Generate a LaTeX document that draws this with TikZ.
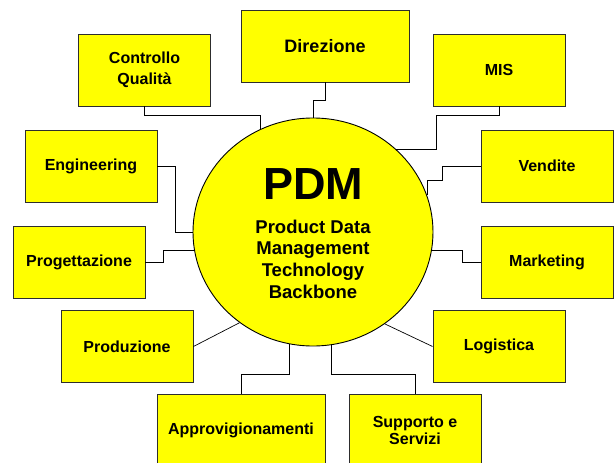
\documentclass[tikz,border=0pt]{standalone}
\usepackage{fontspec}
\setmainfont{Liberation Sans}
\usetikzlibrary{shapes.geometric}
\definecolor{pdmyellow}{RGB}{255,255,0}
\definecolor{boxline}{RGB}{45,45,45}

\begin{document}
\begin{tikzpicture}[x=1pt,y=-1pt,
  box/.style={draw=boxline, line width=0.9pt, fill=pdmyellow, minimum width=132pt, minimum height=72pt, inner sep=0pt, align=center, font=\fontsize{16}{19}\selectfont\bfseries},
  link/.style={draw=black, line width=0.7pt}]
\useasboundingbox (0,0) rectangle (614,463);
\node[ellipse, draw=black, line width=0.9pt, fill=pdmyellow, minimum width=240pt, minimum height=228pt, inner sep=0pt] (pdm) at (313,232) {};
\node[font=\fontsize{45}{50}\selectfont\bfseries, inner sep=0pt] (pdmtitle) at (313,184.5) {PDM};
\node[align=center, font=\fontsize{18.5}{21.7}\selectfont\bfseries, inner sep=0pt] (pdmtext) at (313,259) {Product Data\\Management\\Technology\\Backbone};

\node[box] (cq) at (144.5,70) {Controllo\\[2pt]Qualit\`a};
\node[box, minimum width=168pt, font=\fontsize{18}{21}\selectfont\bfseries] (dir) at (325,46) {Direzione};
\node[box] (mis) at (499,70) {MIS};
\node[box] (ven) at (547,166) {Vendite};
\node[box] (eng) at (91,166) {Engineering};
\node[box] (prog) at (79,262.5) {Progettazione};
\node[box] (mkt) at (547,262) {Marketing};
\node[box] (prod) at (127,346.5) {Produzione};
\node[box] (log) at (499,346.5) {Logistica};
\node[box, minimum width=168pt] (app) at (241,430) {Approvigionamenti};
\node[box] (sup) at (415,430) {Supporto e\\[-2pt]Servizi};

\draw[link] (cq.south) -- ++(0,9) -| (pdm.117);
\draw[link] (dir.south) -- ++(0,18) -| (pdm.north);
\draw[link] (mis.south) -- ++(0,9) -| ([xshift=40pt]pdm.45) -- (pdm.45);
\draw[link] (ven.west) -| ++(-38,14) -| (pdm.18);
\draw[link] (eng.east) -- ++(18,0) |- (pdm.west);
\draw[link] (prog.east) -- ++(18,0) |- (pdm.189);
\draw[link] (mkt.west) -- ++(-18,0) |- (pdm.-9);
\draw[link] (prod.east) -- (pdm.231);
\draw[link] (log.west) -- (pdm.-52);
\draw[link] (app.north) -- ++(0,-19) -| (pdm.258);
\draw[link] (sup.north) -- ++(0,-19) -| (pdm.279);
\end{tikzpicture}
\end{document}
